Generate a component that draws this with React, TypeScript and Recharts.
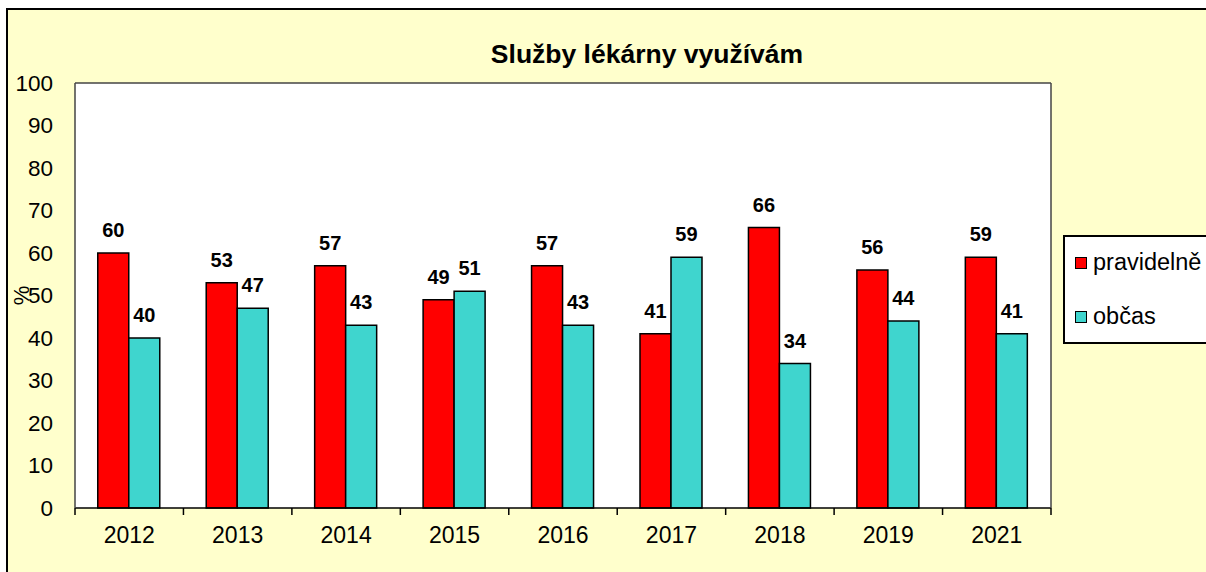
import React from "react";
import { BarChart, Bar, XAxis, YAxis, CartesianGrid, Legend, LabelList } from "recharts";

const years = ["2012", "2013", "2014", "2015", "2016", "2017", "2018", "2019", "2021"];
const pravidelne = [60, 53, 57, 49, 57, 41, 66, 56, 59];
const obcas = [40, 47, 43, 51, 43, 59, 34, 44, 41];
const yTicks = [0, 10, 20, 30, 40, 50, 60, 70, 80, 90, 100];

const data = years.map((year, i) => ({ year, idx: i, pravidelne: pravidelne[i], obcas: obcas[i] }));
// category boundaries for the tick marks under the x axis
const bounds = [...years.map((_, i) => i), years.length];

const FONT = "'Liberation Sans', Arial, sans-serif";
const RED = "#ff0000";
const CYAN = "#3fd5ce";
const BG = "#ffffcc";

function PercentLabel({ viewBox }: any) {
  if (!viewBox) return null;
  const x = viewBox.x + 21.5;
  const y = viewBox.y + viewBox.height / 2;
  return (
    <text x={x} y={y} transform={`rotate(-90 ${x} ${y})`} textAnchor="middle"
      dominantBaseline="central" fontSize={22} fill="#000" fontFamily={FONT}>%</text>
  );
}

function LegendBox({ payload }: any) {
  return (
    <div style={{
      width: 170, height: 105, border: "2px solid #000", background: "#fff",
      display: "flex", flexDirection: "column", justifyContent: "center", fontFamily: FONT,
    }}>
      {(payload || []).map((p: any) => (
        <div key={p.value} style={{ height: 54, flexShrink: 0, display: "flex", alignItems: "center", paddingLeft: 10 }}>
          <span style={{
            width: 10, height: 10, border: "1.5px solid #000", background: p.color,
            marginRight: 6, display: "inline-block",
          }} />
          <span style={{ fontSize: 23.5, color: "#000" }}>{p.value}</span>
        </div>
      ))}
    </div>
  );
}

export default function App() {
  return (
    <div style={{ position: "absolute", left: 0, top: 0, width: 1206, height: 572, overflow: "hidden", background: "#fff" }}>
      <div style={{
        position: "absolute", left: 6, top: 8, width: 1300, height: 700,
        border: "2px solid #000", background: BG,
      }} />
      <div style={{
        position: "absolute", left: 0, top: 41, width: 1294, textAlign: "center",
        fontFamily: FONT, fontWeight: "bold", fontSize: 26.5, lineHeight: "26px", color: "#000",
      }}>
        Služby lékárny využívám
      </div>
      <div style={{ position: "absolute", left: 0, top: 0 }}>
        <BarChart
          width={1206}
          height={572}
          data={data}
          margin={{ top: 82, right: 154, bottom: 23, left: 0 }}
          barCategoryGap="21%"
          barGap={0}
          style={{ fontFamily: FONT }}
        >
          <CartesianGrid xAxisId="c" fill="#fff" horizontal={false} vertical={false} />
          {/* tick marks at the category boundaries */}
          <XAxis
            xAxisId={0}
            type="number"
            dataKey="idx"
            domain={[0, years.length]}
            ticks={bounds}
            allowDataOverflow
            height={1}
            tickSize={7}
            tickFormatter={() => ""}
            tickLine={{ stroke: "#000", strokeWidth: 1.5 }}
            axisLine={{ stroke: "#000", strokeWidth: 1.5 }}
          />
          <XAxis
            xAxisId="c"
            dataKey="year"
            height={40}
            tickLine={false}
            axisLine={false}
            tickSize={0}
            tickMargin={18}
            tick={{ fill: "#000", fontSize: 23, fontFamily: FONT }}
          />
          <XAxis xAxisId="t" orientation="top" dataKey="year" height={1} tick={false} tickLine={false}
            axisLine={{ stroke: "#444", strokeWidth: 1.5 }} />
          <YAxis
            width={75}
            domain={[0, 100]}
            ticks={yTicks}
            interval={0}
            tickLine={false}
            tickSize={0}
            tickMargin={22}
            axisLine={{ stroke: "#444", strokeWidth: 1.5 }}
            tick={{ fill: "#000", fontSize: 22.5, fontFamily: FONT }}
            label={<PercentLabel />}
          />
          <YAxis yAxisId="r" orientation="right" width={1} tick={false} tickLine={false}
            axisLine={{ stroke: "#444", strokeWidth: 1.5 }} />
          <Legend
            layout="vertical"
            align="center"
            verticalAlign="middle"
            itemSorter={() => 0}
            wrapperStyle={{ left: 1063, top: 235 }}
            content={<LegendBox />}
          />
          <Bar xAxisId="c" dataKey="pravidelne" name="pravidelně" fill={RED} stroke="#000" strokeWidth={1.5} isAnimationActive={false}>
            <LabelList dataKey="pravidelne" position="top" offset={16} fill="#000" fontSize={20} fontWeight="bold" fontFamily={FONT} />
          </Bar>
          <Bar xAxisId="c" dataKey="obcas" name="občas" fill={CYAN} stroke="#000" strokeWidth={1.5} isAnimationActive={false}>
            <LabelList dataKey="obcas" position="top" offset={16} fill="#000" fontSize={20} fontWeight="bold" fontFamily={FONT} />
          </Bar>
        </BarChart>
      </div>
    </div>
  );
}
